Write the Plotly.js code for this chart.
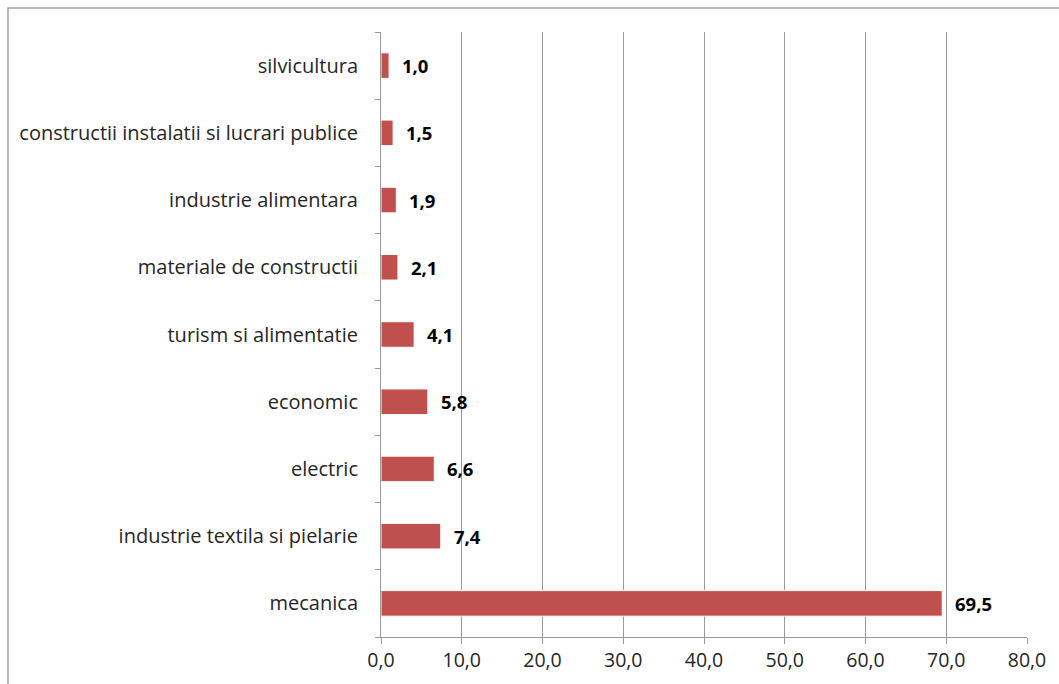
<!DOCTYPE html>
<html>
<head>
<meta charset="utf-8">
<script src="https://cdn.plot.ly/plotly-3.0.1.min.js"></script>
<style>html,body{margin:0;padding:0;background:#fff;}#chart{width:1059px;height:684px;}</style>
</head>
<body>
<div id="chart"></div>
<script>
const categories = ["mecanica","industrie textila si pielarie","electric","economic","turism si alimentatie","materiale de constructii","industrie alimentara","constructii instalatii si lucrari publice","silvicultura"];
const values = [69.5, 7.4, 6.6, 5.8, 4.1, 2.1, 1.9, 1.5, 1.0];
const xTickValues = [0,10,20,30,40,50,60,70,80];

const fontFam = "Open Sans, Noto Sans, sans-serif";

const trace = {
  type: "bar",
  orientation: "h",
  y: categories,
  x: values,
  marker: {color: "#C0504D", line: {color: "#ffffff", width: 1}},
  hoverinfo: "none"
};

const annotations = values.map((v, i) => ({
  x: v, y: categories[i], xref: "x", yref: "y",
  text: v.toFixed(1).replace(".", ","),
  showarrow: false, xanchor: "left", yanchor: "middle", xshift: 11,
  font: {family: fontFam, size: 18.5, color: "#000", weight: "bold"}
}));

const layout = {
  width: 1059, height: 684,
  margin: {l: 381, r: 32, t: 32, b: 47},
  paper_bgcolor: "#fff", plot_bgcolor: "#fff",
  separators: ",.",
  showlegend: false,
  bargap: 0.62,
  xaxis: {
    range: [0, 80], tickvals: xTickValues, tickformat: ".1f",
    showgrid: true, gridcolor: "#9a9a9a", gridwidth: 1,
    zeroline: false, showline: true, linecolor: "#9a9a9a", linewidth: 1,
    ticks: "outside", ticklen: 6, tickcolor: "#9a9a9a",
    tickfont: {family: fontFam, size: 19.5, color: "#262626"},
    fixedrange: true
  },
  yaxis: {
    type: "category", categoryorder: "array", categoryarray: categories,
    showgrid: false, zeroline: false, showline: true, linecolor: "#9a9a9a", linewidth: 1,
    ticks: "outside", ticklen: 5, tickcolor: "#9a9a9a", tickson: "boundaries",
    ticklabelstandoff: 18,
    tickfont: {family: fontFam, size: 20, color: "#262626"},
    fixedrange: true
  },
  annotations: annotations,
  shapes: [{
    type: "rect", xref: "paper", yref: "paper",
    x0: -0.5774, x1: 1.2, y0: -0.2, y1: 1.0397,
    line: {color: "#a0a0a0", width: 1.5}, fillcolor: "rgba(0,0,0,0)", layer: "below"
  }]
};

Plotly.newPlot("chart", [trace], layout, {displayModeBar: false, staticPlot: true});
</script>
</body>
</html>
